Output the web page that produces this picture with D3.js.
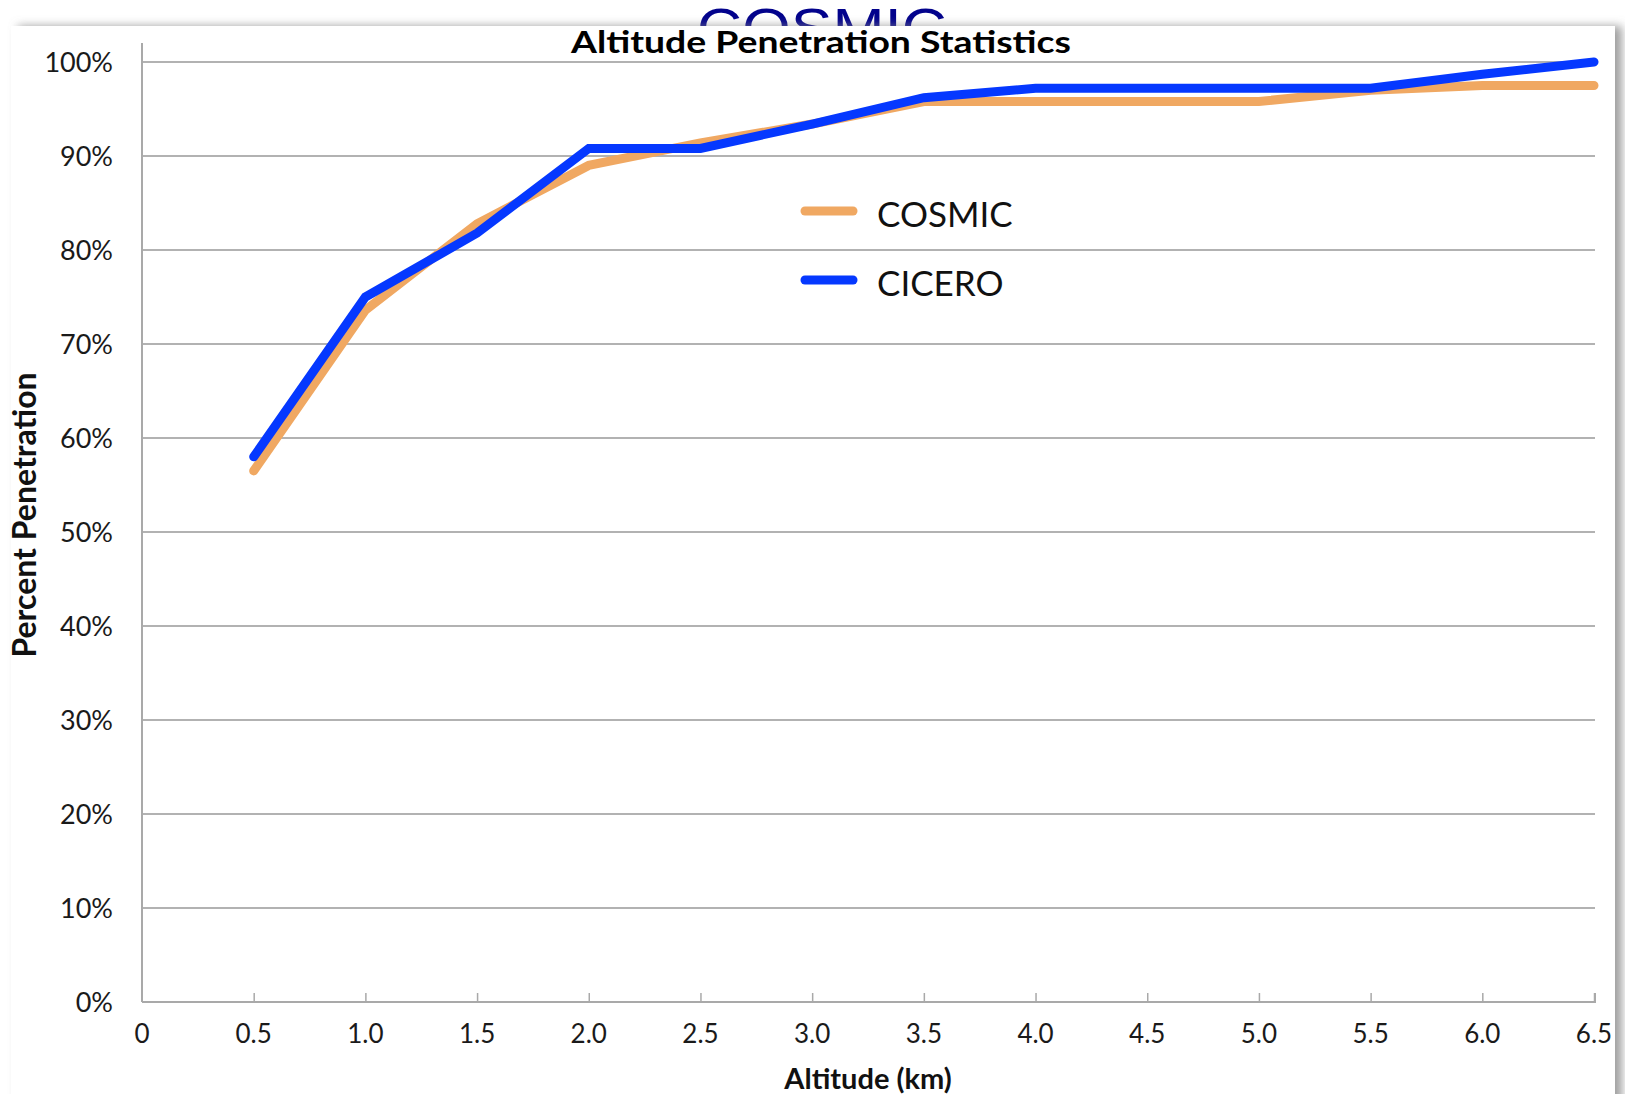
<!DOCTYPE html>
<html>
<head>
<meta charset="utf-8">
<script src="https://cdn.jsdelivr.net/npm/d3@7"></script>
<style>
  html, body { margin: 0; padding: 0; background: #fff; }
  svg { display: block; }
</style>
</head>
<body>
<div id="chart"></div>
<script>
// altitude penetration chart, two series on a 0-6.5 km axis

const altitudes = [0.5, 1.0, 1.5, 2.0, 2.5, 3.0, 3.5, 4.0, 4.5, 5.0, 5.5, 6.0, 6.5]
const cosmic    = [56.5, 73.6, 82.8, 89.0, 91.4, 93.4, 95.8, 95.8, 95.8, 95.8, 97.0, 97.5, 97.5]
const cicero    = [58.0, 75.0, 81.8, 90.8, 90.8, 93.4, 96.2, 97.2, 97.2, 97.2, 97.2, 98.7, 100]
const xTicks    = [0, 0.5, 1.0, 1.5, 2.0, 2.5, 3.0, 3.5, 4.0, 4.5, 5.0, 5.5, 6.0, 6.5]
const yTicks    = [0, 10, 20, 30, 40, 50, 60, 70, 80, 90, 100]
const seriesNames  = ["COSMIC", "CICERO"]
const seriesColors = ["#f0a862", "#0538ff"]

const W = 1625, H = 1094

const svg = d3.select("#chart").append("svg")
  .attr("width", W).attr("height", H)

// drop shadow for the slide panel
const defs = svg.append("defs")
const f = defs.append("filter").attr("id", "shadow")
  .attr("x", "-5%").attr("y", "-5%").attr("width", "110%").attr("height", "110%")
f.append("feDropShadow")
  .attr("dx", 7).attr("dy", 0).attr("stdDeviation", 5)
  .attr("flood-color", "#888").attr("flood-opacity", 0.8)

// the navy word sitting behind the panel (only its top shows)
svg.append("text")
  .attr("x", 822).attr("y", 47)
  .attr("text-anchor", "middle")
  .attr("textLength", 250).attr("lengthAdjust", "spacingAndGlyphs")
  .style("font-family", "'Liberation Sans', Arial, sans-serif")
  .style("font-size", "56px")
  .style("fill", "#02028c")
  .text("COSMIC")

// white panel
svg.append("rect")
  .attr("x", 11).attr("y", 26).attr("width", 1604).attr("height", 1100)
  .attr("fill", "#fff")
  .attr("filter", "url(#shadow)")

// scales
const x = d3.scaleLinear().domain([0, 6.5]).range([142, 1594])
const y = d3.scaleLinear().domain([0, 100]).range([1002, 62])

const g = svg.append("g")
const font = "Lato, 'Open Sans', sans-serif"

// horizontal gridlines
g.selectAll(".grid")
  .data(yTicks.filter(d => d > 0))
  .join("line")
  .attr("class", "grid")
  .attr("x1", x(0)).attr("x2", x(6.5) + 1)
  .attr("y1", d => y(d)).attr("y2", d => y(d))
  .attr("stroke", "#b2b2b2").attr("stroke-width", 2)

// y axis line runs a little above 100%
g.append("line")
  .attr("x1", x(0)).attr("x2", x(0))
  .attr("y1", 43).attr("y2", y(0))
  .attr("stroke", "#a9a9a9").attr("stroke-width", 2)

// x axis with ticks pointing up
const xAxis = g.append("g")
  .attr("transform", `translate(0,${y(0)})`)
  .call(d3.axisTop(x).tickValues(xTicks.filter(d => d > 0)).tickSize(9).tickFormat(""))
xAxis.select(".domain").attr("d", `M${x(0)},0H${x(6.5) + 1}V-9`)
  .attr("stroke", "#a9a9a9").attr("stroke-width", 2)
xAxis.selectAll(".tick line").attr("stroke", "#a9a9a9").attr("stroke-width", 1.5)

// x tick labels
g.selectAll(".xlab")
  .data(xTicks)
  .join("text")
  .attr("class", "xlab")
  .attr("x", d => x(d)).attr("y", y(0) + 41)
  .attr("text-anchor", "middle")
  .style("font-family", font).style("font-size", "26px").style("fill", "#1a1a1a")
  .text(d => d === 0 ? "0" : d.toFixed(1))

// y tick labels
g.selectAll(".ylab")
  .data(yTicks)
  .join("text")
  .attr("class", "ylab")
  .attr("x", 113).attr("y", d => y(d) + 10)
  .attr("text-anchor", "end")
  .style("font-family", font).style("font-size", "27px").style("fill", "#1a1a1a")
  .text(d => d + "%")

// lines
const line = d3.line()
  .x((d, i) => x(altitudes[i]))
  .y(d => y(d))

const seriesData = [cosmic, cicero]
g.selectAll(".series")
  .data(seriesData)
  .join("path")
  .attr("class", "series")
  .attr("d", d => line(d))
  .attr("fill", "none")
  .attr("stroke", (d, i) => seriesColors[i])
  .attr("stroke-width", 9)
  .attr("stroke-linejoin", "miter")
  .attr("stroke-linecap", "round")

// legend
const legend = g.append("g")
seriesNames.forEach((name, i) => {
  const ly = 211 + i * 69
  legend.append("line")
    .attr("x1", 805).attr("x2", 853).attr("y1", ly).attr("y2", ly)
    .attr("stroke", seriesColors[i]).attr("stroke-width", 9).attr("stroke-linecap", "round")
  legend.append("text")
    .attr("x", 877).attr("y", ly + 16)
    .style("font-family", font).style("font-size", "35px").style("fill", "#111")
    .text(name)
})

// title
svg.append("text")
  .attr("x", 821).attr("y", 53)
  .attr("text-anchor", "middle")
  .attr("textLength", 500).attr("lengthAdjust", "spacingAndGlyphs")
  .style("font-family", font).style("font-size", "31px").style("font-weight", "700").style("fill", "#000")
  .text("Altitude Penetration Statistics")

// axis titles
svg.append("text")
  .attr("x", (x(0) + x(6.5)) / 2).attr("y", 1089)
  .attr("text-anchor", "middle")
  .style("font-family", font).style("font-size", "29px").style("font-weight", "700").style("fill", "#111")
  .text("Altitude (km)")

svg.append("text")
  .attr("transform", "translate(36,515) rotate(-90)")
  .attr("text-anchor", "middle")
  .style("font-family", font).style("font-size", "32px").style("font-weight", "700").style("fill", "#111")
  .text("Percent Penetration")
</script>
</body>
</html>
